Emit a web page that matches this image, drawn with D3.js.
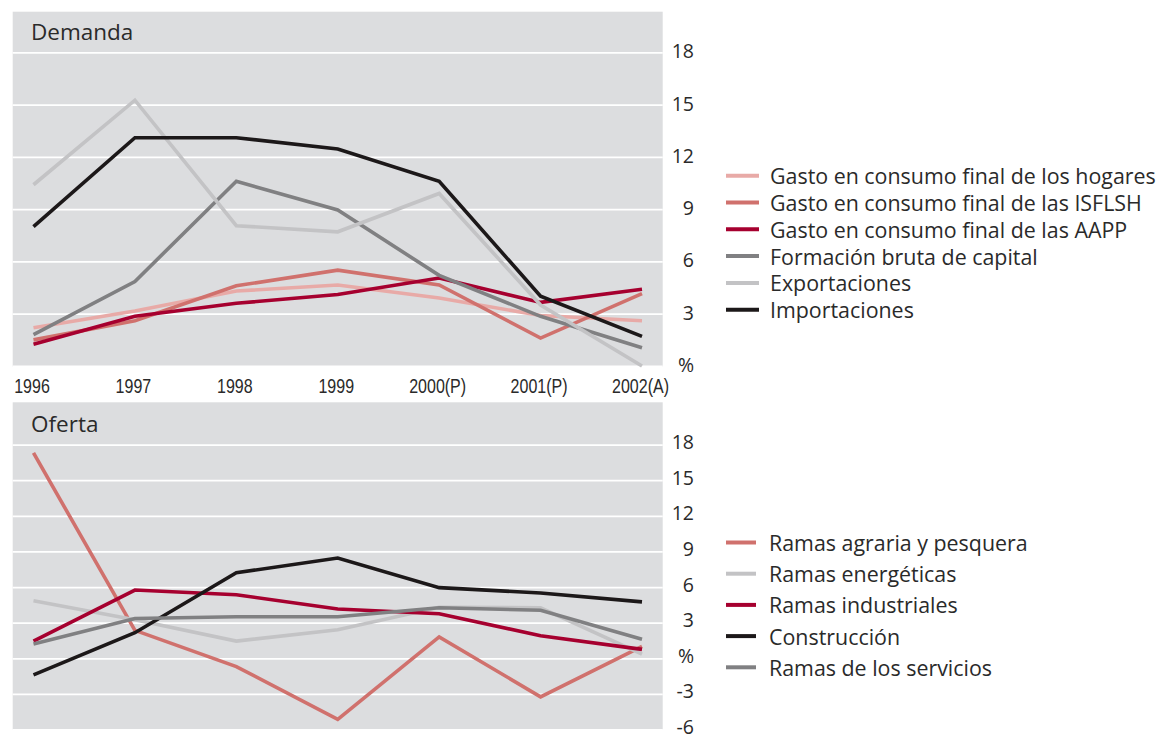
<!DOCTYPE html>
<html>
<head>
<meta charset="utf-8">
<script src="https://cdn.jsdelivr.net/npm/d3@7"></script>
<style>
  html, body { margin: 0; padding: 0; background: #ffffff; }
  svg { display: block; }
</style>
</head>
<body>
<svg id="chart" width="1164" height="734"></svg>
<script>
// ---------- DATA ----------
const years = ["1996", "1997", "1998", "1999", "2000(P)", "2001(P)", "2002(A)"];

// Demanda
const demandaNames = [
  "Gasto en consumo final de los hogares",
  "Gasto en consumo final de las ISFLSH",
  "Gasto en consumo final de las AAPP",
  "Formación bruta de capital",
  "Exportaciones",
  "Importaciones"
];
const hogares     = [2.2, 3.15, 4.3, 4.65, 3.9, 2.9, 2.6];
const isflsh      = [1.5, 2.6, 4.6, 5.5, 4.65, 1.6, 4.15];
const aapp        = [1.25, 2.85, 3.6, 4.1, 5.05, 3.65, 4.4];
const formacion   = [1.8, 4.85, 10.6, 8.95, 5.2, 2.85, 1.05];
const exportac    = [10.4, 15.25, 8.05, 7.7, 9.9, 3.5, 0.0];
const importac    = [8.0, 13.1, 13.1, 12.45, 10.6, 4.0, 1.7];

// Oferta
const ofertaNames = [
  "Ramas agraria y pesquera",
  "Ramas energéticas",
  "Ramas industriales",
  "Construcción",
  "Ramas de los servicios"
];
const agraria      = [17.3, 2.35, -0.7, -5.15, 1.8, -3.25, 1.0];
const energeticas  = [4.85, 3.25, 1.45, 2.4, 4.3, 4.25, 0.35];
const industriales = [1.45, 5.75, 5.35, 4.15, 3.75, 1.9, 0.75];
const construccion = [-1.4, 2.15, 7.2, 8.45, 5.95, 5.5, 4.75];
const servicios    = [1.2, 3.35, 3.5, 3.5, 4.25, 4.05, 1.6];

const demandaTicks = [0, 3, 6, 9, 12, 15, 18];
const ofertaTicks  = [-6, -3, 0, 3, 6, 9, 12, 15, 18];

// ---------- STYLE ----------
const C = {
  pink:    "#e8aaa7",
  salmon:  "#d0716d",
  crimson: "#a6002f",
  gray:    "#808082",
  lgray:   "#c3c3c5",
  black:   "#1c1819"
};
const demandaColors = [C.pink, C.salmon, C.crimson, C.gray, C.lgray, C.black];
const ofertaColors  = [C.salmon, C.lgray, C.crimson, C.black, C.gray];
const demandaValues = [hogares, isflsh, aapp, formacion, exportac, importac];
const ofertaValues  = [agraria, energeticas, industriales, construccion, servicios];

const bg = "#dcdddf";
const textColor = "#2a2a2a";
const uiFont = "'Open Sans', 'DejaVu Sans', sans-serif";
const narrowFont = "'Liberation Sans', Arial, sans-serif";

const svg = d3.select("#chart");

const plotLeft = 12.7, plotRight = 662.7;
const x = d3.scalePoint().domain(years).range([33.5, 642]);

function panel(opts) {
  const g = svg.append("g");
  const y = d3.scaleLinear().domain(opts.domain).range(opts.range);

  // background
  g.append("rect")
    .attr("x", plotLeft).attr("y", opts.bgTop)
    .attr("width", plotRight - plotLeft)
    .attr("height", opts.bgBottom - opts.bgTop)
    .attr("fill", bg);

  // gridlines
  const grid = g.append("g")
    .attr("transform", `translate(${plotLeft},0)`)
    .call(d3.axisRight(y).tickValues(opts.ticks).tickSize(plotRight - plotLeft).tickFormat(""));
  grid.select(".domain").remove();
  grid.selectAll(".tick line").attr("stroke", "#ffffff").attr("stroke-width", 1.8);

  // tick labels
  const ax = g.append("g")
    .attr("transform", `translate(694,0)`)
    .call(d3.axisLeft(y).tickValues(opts.ticks).tickSize(0).tickPadding(0)
      .tickFormat(d => d === 0 ? "%" : String(d)));
  ax.select(".domain").remove();
  ax.selectAll(".tick text")
    .attr("fill", textColor)
    .attr("font-family", uiFont)
    .attr("font-size", 19.5)
    .attr("dy", null)
    .attr("dominant-baseline", "central")
    .attr("y", opts.labelShift);

  // title
  g.append("text")
    .attr("x", 31).attr("y", opts.titleY)
    .attr("font-family", uiFont).attr("font-size", 22.5)
    .attr("fill", textColor)
    .text(opts.title);

  // lines
  const line = d3.line()
    .x((d, i) => x(years[i]))
    .y(d => y(d))
    .curve(d3.curveLinear);
  opts.values.forEach((vals, k) => {
    g.append("path")
      .datum(vals)
      .attr("d", line)
      .attr("fill", "none")
      .attr("stroke", opts.colors[k])
      .attr("stroke-width", 3.6)
      .attr("stroke-linejoin", "miter")
      .attr("stroke-linecap", "butt");
  });

  // legend
  const lg = g.append("g");
  opts.names.forEach((name, k) => {
    const yy = opts.legendY0 + k * opts.legendStep;
    lg.append("line")
      .attr("x1", 726).attr("x2", opts.legendLineEnd)
      .attr("y1", yy).attr("y2", yy)
      .attr("stroke", opts.colors[k]).attr("stroke-width", 4);
    lg.append("text")
      .attr("x", opts.legendTextX).attr("y", yy)
      .attr("dominant-baseline", "central")
      .attr("font-family", uiFont).attr("font-size", 21.4)
      .attr("fill", textColor)
      .text(name);
  });
  return y;
}

panel({
  title: "Demanda", titleY: 40,
  domain: [0, 18], range: [366, 52.3],
  bgTop: 11.7, bgBottom: 366.7,
  ticks: demandaTicks, labelShift: -2,
  values: demandaValues, colors: demandaColors, names: demandaNames,
  legendY0: 175.7, legendStep: 26.8, legendLineEnd: 759, legendTextX: 770
});

panel({
  title: "Oferta", titleY: 431.7,
  domain: [-6, 18], range: [729.5, 444.6],
  bgTop: 402.3, bgBottom: 729.5,
  ticks: ofertaTicks, labelShift: -3.5,
  values: ofertaValues, colors: ofertaColors, names: ofertaNames,
  legendY0: 542.5, legendStep: 31.2, legendLineEnd: 756, legendTextX: 769
});

// x axis labels (between panels), condensed
const xa = svg.append("g")
  .attr("transform", "translate(-2,366.7)")
  .call(d3.axisBottom(x).tickSize(0).tickPadding(0));
xa.select(".domain").remove();
xa.selectAll(".tick text")
  .attr("dy", null)
  .attr("y", 26.6)
  .attr("fill", textColor)
  .attr("font-family", narrowFont)
  .attr("font-size", 20)
  .attr("transform", "scale(0.8,1)");
</script>
</body>
</html>
